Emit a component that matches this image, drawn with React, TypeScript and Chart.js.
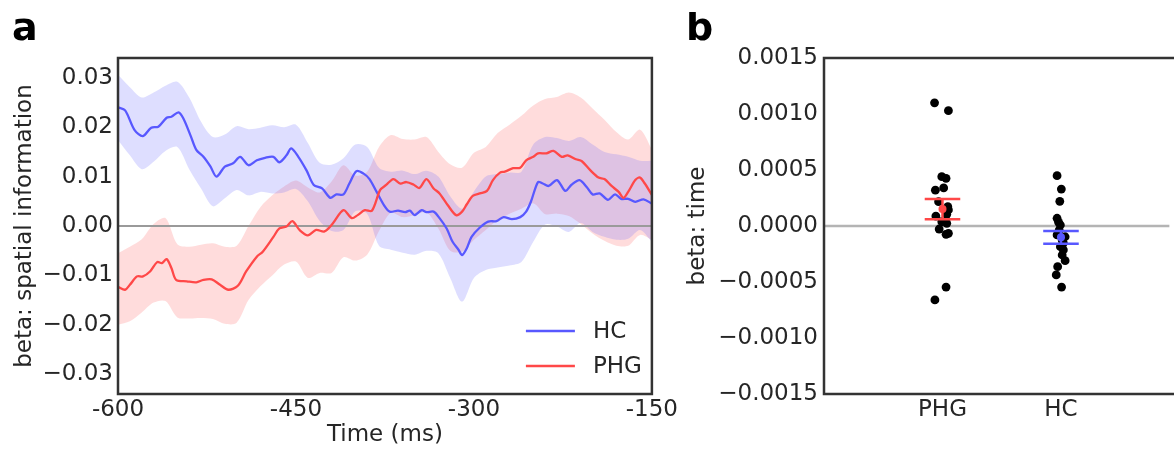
import React, { useEffect, useRef } from 'react';
import { Chart, registerables } from 'chart.js';

Chart.register(...registerables);

// ---------- Panel a data ----------
const xTicksA = [-600, -450, -300, -150];
const xTickLabelsA = ['-600', '-450', '-300', '-150'];
const yTicksA = [-0.03, -0.02, -0.01, 0, 0.01, 0.02, 0.03];
const yTickLabelsA = ['\u22120.03', '\u22120.02', '\u22120.01', '0.00', '0.01', '0.02', '0.03'];

const legendLabels = ['HC', 'PHG'];

const hcTimes = [-600, -594, -586, -579, -572, -566, -559, -555, -549, -545, -539, -534, -528, -522, -517, -510, -503, -497, -490, -483, -476, -469, -464, -458, -454, -448, -441, -435, -428, -421, -416, -410, -405, -399, -393, -388, -382, -375, -371, -364, -358, -354, -350, -344, -340, -334, -329, -323, -318, -313, -310, -306, -302, -295, -288, -281, -275, -268, -261, -256, -252, -246, -242, -237, -230, -223, -218, -211, -205, -200, -194, -187, -181, -176, -170, -164, -157, -150];
const hcMean = [0.0240, 0.0234, 0.0194, 0.0182, 0.0199, 0.0201, 0.0219, 0.0221, 0.0230, 0.0218, 0.0184, 0.0154, 0.0140, 0.0120, 0.0100, 0.0120, 0.0127, 0.0140, 0.0123, 0.0133, 0.0138, 0.0140, 0.0129, 0.0143, 0.0157, 0.0140, 0.0112, 0.0083, 0.0076, 0.0057, 0.0064, 0.0064, 0.0086, 0.0111, 0.0106, 0.0095, 0.0069, 0.0039, 0.0029, 0.0031, 0.0028, 0.0031, 0.0022, 0.0032, 0.0028, 0.0029, 0.0016, -0.0005, -0.0032, -0.0048, -0.0059, -0.0045, -0.0022, -0.0003, 0.0009, 0.0010, 0.0018, 0.0014, 0.0018, 0.0029, 0.0049, 0.0089, 0.0086, 0.0081, 0.0093, 0.0071, 0.0083, 0.0093, 0.0079, 0.0064, 0.0066, 0.0053, 0.0064, 0.0055, 0.0055, 0.0049, 0.0054, 0.0045];

const phgTimes = [-600, -594, -590, -584, -579, -573, -567, -563, -559, -555, -551, -542, -534, -528, -521, -514, -507, -499, -492, -483, -478, -469, -464, -458, -453, -447, -440, -433, -426, -419, -410, -403, -398, -392, -386, -379, -374, -368, -362, -357, -351, -346, -340, -334, -329, -322, -315, -310, -306, -301, -295, -289, -284, -278, -274, -267, -261, -256, -250, -246, -239, -233, -226, -221, -214, -209, -202, -195, -190, -184, -178, -174, -170, -164, -160, -156, -150];
const phgMean = [-0.0123, -0.0129, -0.0119, -0.0102, -0.0102, -0.0092, -0.0073, -0.0075, -0.0067, -0.0085, -0.0109, -0.0112, -0.0114, -0.0109, -0.0108, -0.0119, -0.0129, -0.0121, -0.0092, -0.0062, -0.0052, -0.0022, -0.0005, -0.0001, 0.0010, -0.0008, -0.0019, -0.0008, -0.0011, 0.0005, 0.0032, 0.0016, 0.0022, 0.0032, 0.0031, 0.0073, 0.0083, 0.0095, 0.0086, 0.0089, 0.0084, 0.0077, 0.0095, 0.0076, 0.0066, 0.0042, 0.0022, 0.0029, 0.0044, 0.0061, 0.0066, 0.0071, 0.0093, 0.0108, 0.0110, 0.0117, 0.0118, 0.0133, 0.0140, 0.0147, 0.0147, 0.0152, 0.0140, 0.0143, 0.0135, 0.0131, 0.0113, 0.0098, 0.0095, 0.0081, 0.0069, 0.0057, 0.0069, 0.0093, 0.0098, 0.0086, 0.0063];

const bandTimes = [-600, -590, -580, -570, -560, -550, -540, -530, -520, -510, -500, -490, -480, -470, -460, -450, -440, -430, -420, -410, -400, -390, -380, -370, -360, -350, -340, -330, -320, -310, -300, -290, -280, -270, -260, -250, -240, -230, -220, -210, -200, -190, -180, -170, -160, -150];
const hcUpper = [0.0306, 0.0281, 0.0260, 0.0270, 0.0284, 0.0292, 0.0260, 0.0211, 0.0180, 0.0185, 0.0202, 0.0196, 0.0199, 0.0204, 0.0200, 0.0205, 0.0168, 0.0128, 0.0124, 0.0137, 0.0165, 0.0160, 0.0118, 0.0110, 0.0112, 0.0105, 0.0112, 0.0100, 0.0060, 0.0035, 0.0070, 0.0100, 0.0105, 0.0108, 0.0110, 0.0165, 0.0180, 0.0178, 0.0172, 0.0180, 0.0165, 0.0150, 0.0145, 0.0140, 0.0132, 0.0132];
const hcLower = [0.0174, 0.0143, 0.0115, 0.0130, 0.0152, 0.0160, 0.0115, 0.0076, 0.0040, 0.0056, 0.0073, 0.0062, 0.0069, 0.0066, 0.0068, 0.0075, 0.0050, 0.0010, -0.0010, -0.0008, 0.0030, 0.0025, -0.0040, -0.0048, -0.0054, -0.0058, -0.0050, -0.0055, -0.0105, -0.0153, -0.0105, -0.0089, -0.0084, -0.0080, -0.0073, -0.0032, 0.0003, -0.0001, -0.0012, 0.0006, -0.0012, -0.0022, -0.0028, -0.0026, -0.0008, -0.0032];
const phgUpper = [-0.0055, -0.0042, -0.0027, 0.0004, 0.0016, -0.0037, -0.0042, -0.0038, -0.0035, -0.0042, -0.0040, 0.0000, 0.0038, 0.0062, 0.0080, 0.0092, 0.0078, 0.0068, 0.0090, 0.0123, 0.0102, 0.0110, 0.0160, 0.0184, 0.0176, 0.0175, 0.0180, 0.0150, 0.0125, 0.0118, 0.0148, 0.0160, 0.0188, 0.0205, 0.0223, 0.0244, 0.0257, 0.0261, 0.0270, 0.0260, 0.0238, 0.0215, 0.0190, 0.0175, 0.0195, 0.0155];
const phgLower = [-0.0200, -0.0193, -0.0175, -0.0155, -0.0152, -0.0185, -0.0187, -0.0186, -0.0188, -0.0198, -0.0196, -0.0150, -0.0122, -0.0100, -0.0078, -0.0072, -0.0105, -0.0095, -0.0095, -0.0063, -0.0070, -0.0058, -0.0010, 0.0027, 0.0018, 0.0022, 0.0028, -0.0005, -0.0050, -0.0052, -0.0028, -0.0008, 0.0012, 0.0025, 0.0035, 0.0046, 0.0024, 0.0025, 0.0020, 0.0004, -0.0015, -0.0030, -0.0040, -0.0040, -0.0018, -0.0028];

// ---------- Panel b data ----------
const groupLabels = ['PHG', 'HC'];
const groupPos = [1, 2];
const yTicksB = [-0.0015, -0.001, -0.0005, 0, 0.0005, 0.001, 0.0015];
const yTickLabelsB = ['\u22120.0015', '\u22120.0010', '\u22120.0005', '0.0000', '0.0005', '0.0010', '0.0015'];

const phgX = [0.933, 1.05, 0.994, 1.03, 0.94, 1.01, 0.967, 1.045, 1.05, 0.944, 1.036, 0.994, 1.036, 0.972, 1.05, 1.03, 1.03, 0.936];
const phgBeta = [0.0011, 0.00103, 0.00044, 0.000426, 0.00032, 0.00034, 0.000217, 0.000172, 0.000143, 0.000089, 0.000104, 0.000038, 0.000024, -0.000027, -0.000065, -0.000074, -0.000545, -0.00066];
const hcX = [1.967, 2.003, 1.99, 1.967, 1.98, 1.995, 1.967, 2.035, 2.01, 1.995, 2.02, 2.035, 1.972, 1.96, 2.005, 1.985, 2.02, 2.01];
const hcBeta = [0.000449, 0.00033, 0.00022, 0.000069, 0.000033, 0.000009, -0.00008, -0.000096, -0.000125, -0.000185, -0.000214, -0.00031, -0.000363, -0.000437, -0.000545, -0.000036, -0.000152, -0.000259];

const groupMean = [0.000152, -0.0001];
const groupErrLow = [0.00006, -0.000158];
const groupErrHigh = [0.000241, -0.000045];

// ---------- styles ----------
const FONT = "'DejaVu Sans', 'Liberation Sans', sans-serif";
const TEXT = '#262626';
const BLUE = 'rgb(88,88,255)';
const RED = 'rgb(255,72,72)';
const BLUE_BAND = 'rgba(90,90,255,0.2)';
const RED_BAND = 'rgba(255,80,80,0.2)';
const FRAME = '#333333';
const FS = 23;
const CAP = 0.15;
const X_MAX_B = 2.9167;

const zip = (xs: number[], ys: number[]) => {
  const n = Math.min(xs.length, ys.length);
  const out: { x: number; y: number }[] = [];
  for (let i = 0; i < n; i++) out.push({ x: xs[i], y: ys[i] });
  return out;
};

const frameA = {
  id: 'frameA',
  afterDatasetsDraw(chart: any) {
    const { ctx, chartArea } = chart;
    const { left, right, top, bottom } = chartArea;
    ctx.save();
    ctx.strokeStyle = FRAME;
    ctx.lineWidth = 2.5;
    ctx.strokeRect(left, top, right - left, bottom - top);
    ctx.restore();
  },
};

const frameB = {
  id: 'frameB',
  afterDatasetsDraw(chart: any) {
    const { ctx, chartArea } = chart;
    const { left, right, top, bottom } = chartArea;
    ctx.save();
    ctx.strokeStyle = FRAME;
    ctx.lineWidth = 2.5;
    ctx.beginPath();
    ctx.moveTo(right + 5, top);
    ctx.lineTo(left, top);
    ctx.lineTo(left, bottom);
    ctx.lineTo(right + 5, bottom);
    ctx.stroke();
    ctx.restore();
  },
};

const legendA = {
  id: 'legendA',
  afterDraw(chart: any) {
    const { ctx, chartArea } = chart;
    const colors = [BLUE, RED];
    const rows = [chartArea.bottom - 63, chartArea.bottom - 28];
    ctx.save();
    ctx.font = `${FS}px ${FONT}`;
    ctx.textBaseline = 'middle';
    ctx.textAlign = 'left';
    legendLabels.forEach((lab, i) => {
      ctx.strokeStyle = colors[i];
      ctx.lineWidth = 2.5;
      ctx.beginPath();
      ctx.moveTo(chartArea.right - 126, rows[i]);
      ctx.lineTo(chartArea.right - 77, rows[i]);
      ctx.stroke();
      ctx.fillStyle = TEXT;
      ctx.fillText(lab, chartArea.right - 59, rows[i] + 1);
    });
    ctx.restore();
  },
};

export default function App() {
  const refA = useRef<HTMLCanvasElement>(null);
  const refB = useRef<HTMLCanvasElement>(null);

  useEffect(() => {
    const tickFont = { family: FONT, size: FS };
    const noGrid = { display: false, drawTicks: false, tickLength: 0 };

    const chartA = new Chart(refA.current as HTMLCanvasElement, {
      type: 'line',
      data: {
        datasets: [
          { label: 'PHG', data: zip(phgTimes, phgMean), borderColor: RED, borderWidth: 2.3, pointRadius: 0, tension: 0.3, fill: false, order: 0 } as any,
          { label: 'HC', data: zip(hcTimes, hcMean), borderColor: BLUE, borderWidth: 2.3, pointRadius: 0, tension: 0.3, fill: false, order: 1 },
          { label: 'zero', data: [{ x: -600, y: 0 }, { x: -150, y: 0 }], borderColor: '#9a9a9a', borderWidth: 2, pointRadius: 0, fill: false, order: 2 },
          { label: 'HC upper', data: zip(bandTimes, hcUpper), borderWidth: 0, borderColor: 'rgba(0,0,0,0)', backgroundColor: BLUE_BAND, pointRadius: 0, tension: 0.3, fill: 4, order: 3 },
          { label: 'HC lower', data: zip(bandTimes, hcLower), borderWidth: 0, borderColor: 'rgba(0,0,0,0)', pointRadius: 0, tension: 0.3, fill: false, order: 3 },
          { label: 'PHG upper', data: zip(bandTimes, phgUpper), borderWidth: 0, borderColor: 'rgba(0,0,0,0)', backgroundColor: RED_BAND, pointRadius: 0, tension: 0.3, fill: 6, order: 4 },
          { label: 'PHG lower', data: zip(bandTimes, phgLower), borderWidth: 0, borderColor: 'rgba(0,0,0,0)', pointRadius: 0, tension: 0.3, fill: false, order: 4 },
        ],
      },
      options: {
        animation: false,
        responsive: false,
        devicePixelRatio: 1,
        layout: { padding: { left: 0, right: 28, top: 58, bottom: 0 } },
        plugins: { legend: { display: false }, tooltip: { enabled: false } },
        scales: {
          x: {
            type: 'linear',
            min: -600,
            max: -150,
            grid: noGrid,
            border: { display: false },
            afterBuildTicks: (s: any) => { s.ticks = xTicksA.map((v) => ({ value: v })); },
            afterFit: (s: any) => { s.height = 55; },
            ticks: {
              font: tickFont, color: TEXT, padding: 2, maxRotation: 0, autoSkip: false,
              callback: (_v: any, i: number) => xTickLabelsA[i],
            },
            title: { display: true, text: 'Time (ms)', font: tickFont, color: TEXT, padding: { top: 0, bottom: 0 } },
          },
          y: {
            type: 'linear',
            min: -0.034,
            max: 0.034,
            grid: noGrid,
            border: { display: false },
            afterBuildTicks: (s: any) => { s.ticks = yTicksA.map((v) => ({ value: v })); },
            afterFit: (s: any) => { s.width = 118; },
            ticks: {
              font: tickFont, color: TEXT, padding: 5, autoSkip: false,
              callback: (_v: any, i: number) => yTickLabelsA[i],
            },
            title: { display: true, text: 'beta: spatial information', font: tickFont, color: TEXT, padding: { top: 11, bottom: 0 } },
          },
        },
      } as any,
      plugins: [frameA, legendA],
    });

    const errDatasets: any[] = [];
    const gColors = [RED, BLUE];
    groupPos.forEach((p, g) => {
      errDatasets.push({ data: [{ x: p - CAP, y: groupErrHigh[g] }, { x: p + CAP, y: groupErrHigh[g] }], showLine: true, borderColor: gColors[g], borderWidth: 2.5, pointRadius: 0, order: 1 });
      errDatasets.push({ data: [{ x: p - CAP, y: groupErrLow[g] }, { x: p + CAP, y: groupErrLow[g] }], showLine: true, borderColor: gColors[g], borderWidth: 2.5, pointRadius: 0, order: 1 });
      errDatasets.push({ data: [{ x: p, y: groupErrLow[g] }, { x: p, y: groupErrHigh[g] }], showLine: true, borderColor: gColors[g], borderWidth: 2.5, pointRadius: 0, order: 1 });
    });

    const chartB = new Chart(refB.current as HTMLCanvasElement, {
      type: 'scatter',
      data: {
        datasets: [
          { data: zip(groupPos, groupMean).slice(0, 1), pointRadius: 4, backgroundColor: RED, borderWidth: 0, order: 0 },
          { data: zip(groupPos, groupMean).slice(1, 2), pointRadius: 4, backgroundColor: BLUE, borderWidth: 0, order: 0 },
          ...errDatasets,
          { data: zip(phgX, phgBeta), pointRadius: 4.4, backgroundColor: '#000', borderWidth: 0, order: 2 },
          { data: zip(hcX, hcBeta), pointRadius: 4.4, backgroundColor: '#000', borderWidth: 0, order: 2 },
          { data: [{ x: 0, y: 0 }, { x: X_MAX_B, y: 0 }], showLine: true, borderColor: '#b4b4b4', borderWidth: 2.5, pointRadius: 0, order: 3 },
        ],
      },
      options: {
        animation: false,
        responsive: false,
        devicePixelRatio: 1,
        layout: { padding: { left: 0, right: 0, top: 58, bottom: 0 } },
        plugins: { legend: { display: false }, tooltip: { enabled: false } },
        scales: {
          x: {
            type: 'linear',
            min: 0,
            max: X_MAX_B,
            grid: noGrid,
            border: { display: false },
            afterBuildTicks: (s: any) => { s.ticks = groupPos.map((v) => ({ value: v })); },
            afterFit: (s: any) => { s.height = 55; },
            ticks: {
              font: tickFont, color: TEXT, padding: 2, maxRotation: 0, autoSkip: false,
              callback: (_v: any, i: number) => groupLabels[i],
            },
          },
          y: {
            type: 'linear',
            min: -0.0015,
            max: 0.0015,
            grid: noGrid,
            border: { display: false },
            afterBuildTicks: (s: any) => { s.ticks = yTicksB.map((v) => ({ value: v })); },
            afterFit: (s: any) => { s.width = 144; },
            ticks: {
              font: tickFont, color: TEXT, padding: 6, autoSkip: false,
              callback: (_v: any, i: number) => yTickLabelsB[i],
            },
            title: { display: true, text: 'beta: time', font: tickFont, color: TEXT, padding: { top: 4, bottom: 0 } },
          },
        },
      } as any,
      plugins: [frameB],
    });

    return () => {
      chartA.destroy();
      chartB.destroy();
    };
  }, []);

  const labelStyle: React.CSSProperties = {
    position: 'absolute',
    top: 8,
    fontFamily: FONT,
    fontWeight: 'bold',
    fontSize: 38,
    lineHeight: '38px',
    color: '#000',
  };

  return (
    <div style={{ position: 'absolute', left: 0, top: 0, width: 1174, height: 449, background: '#fff', overflow: 'hidden' }}>
      <canvas ref={refA} width={680} height={449} style={{ position: 'absolute', left: 0, top: 0, width: 680, height: 449 }} />
      <canvas ref={refB} width={494} height={449} style={{ position: 'absolute', left: 680, top: 0, width: 494, height: 449 }} />
      <div style={{ ...labelStyle, left: 12 }}>a</div>
      <div style={{ ...labelStyle, left: 686 }}>b</div>
    </div>
  );
}
